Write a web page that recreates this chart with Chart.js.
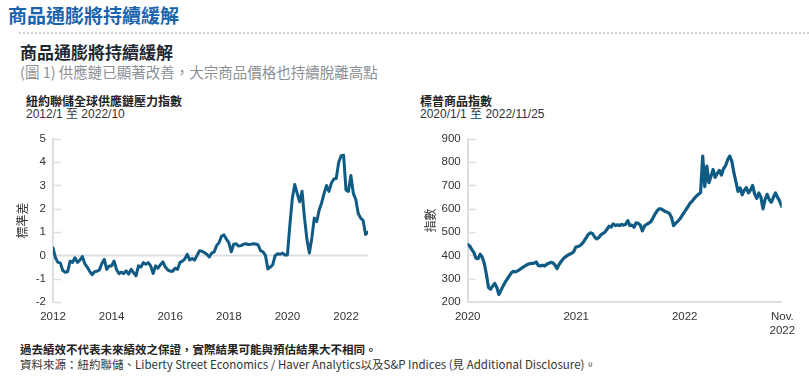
<!DOCTYPE html>
<html><head><meta charset="utf-8">
<script src="https://cdn.jsdelivr.net/npm/chart.js@4"></script>
<style>
html,body{margin:0;padding:0;background:#fff;width:809px;height:380px;overflow:hidden;}
body{position:relative;font-family:"Noto Sans CJK TC","Noto Sans",sans-serif;}
.t{position:absolute;white-space:nowrap;line-height:1;}
#h1{left:8px;top:5px;font-size:19px;font-weight:700;color:#1a64ad;}
#rule{position:absolute;left:19px;right:0;top:32px;border-top:2px dotted #cfcfcf;}
#h2{left:20px;top:43px;font-size:17px;font-weight:700;color:#1c2733;}
#sub{left:20px;top:65px;font-size:14.5px;color:#8a9096;}
.ct{font-size:12px;font-weight:700;color:#222;}
.cs{font-size:12px;color:#333;font-family:"Liberation Sans","Noto Sans CJK TC",sans-serif;}
#f1{left:20px;top:344px;font-size:11.5px;font-weight:700;color:#222;}
#f2{left:20px;top:359px;font-size:11.5px;color:#333;}
canvas{position:absolute;}
</style></head>
<body>
<div class="t" id="h1">商品通膨將持續緩解</div>
<div id="rule"></div>
<div class="t" id="h2">商品通膨將持續緩解</div>
<div class="t" id="sub">(圖 1) 供應鏈已顯著改善，大宗商品價格也持續脫離高點</div>
<div class="t ct" style="left:26px;top:95px;">紐約聯儲全球供應鏈壓力指數</div>
<div class="t cs" style="left:26px;top:108px;">2012/1 至 2022/10</div>
<div class="t ct" style="left:420px;top:95px;">標普商品指數</div>
<div class="t cs" style="left:420px;top:108px;">2020/1/1 至 2022/11/25</div>
<canvas id="c1" width="400" height="210" style="left:0;top:125px;"></canvas>
<canvas id="c2" width="409" height="215" style="left:400px;top:125px;"></canvas>
<div class="t" id="f1">過去績效不代表未來績效之保證，實際結果可能與預估結果大不相同。</div>
<div class="t" id="f2">資料來源：紐約聯儲、Liberty Street Economics / Haver Analytics以及S&amp;P Indices (見 Additional Disclosure)。</div>
<script>
// ---- Data ----
// NY Fed Global Supply Chain Pressure Index, monthly from 2012/1 to 2022/10
const gscpiStartYear = 2012;
const gscpiValues = [
 0.32,-0.1,-0.3,-0.32,-0.65,-0.72,-0.7,-0.25,-0.3,-0.1,-0.3,-0.2,
 -0.05,-0.35,-0.5,-0.68,-0.83,-0.7,-0.68,-0.62,-0.35,-0.17,-0.6,-0.45,
 -0.45,-0.24,-0.6,-0.78,-0.72,-0.78,-0.66,-0.8,-0.6,-0.74,-0.88,-0.45,
 -0.5,-0.31,-0.38,-0.31,-0.45,-0.78,-0.45,-0.55,-0.4,-0.28,-0.5,-0.62,
 -0.68,-0.68,-0.55,-0.6,-0.3,-0.25,-0.15,0.05,-0.2,-0.13,-0.2,0.0,
 0.2,0.18,0.12,0.05,-0.07,0.1,0.15,0.42,0.55,0.82,0.88,0.7,
 0.55,0.15,0.48,0.5,0.4,0.42,0.48,0.5,0.47,0.48,0.5,0.49,
 0.45,0.2,0.15,0.0,-0.58,-0.5,-0.4,0.0,0.07,0.05,0.1,0.02,
 0.02,1.3,2.44,3.04,2.66,2.3,2.75,1.6,0.68,0.1,0.75,1.6,
 1.45,1.95,2.25,2.65,3.0,2.75,3.1,3.28,3.3,4.0,4.28,4.3,
 2.8,2.75,3.43,2.66,2.4,1.8,1.6,1.5,0.9,1.0
];
const gscpiXTicks = [2012, 2014, 2016, 2018, 2020, 2022];
const gscpiYTicks = [-2, -1, 0, 1, 2, 3, 4, 5];
const gscpiYTitle = '標準差';

// S&P GSCI, weekly readings from 2020/1/1 to 2022/11/25
const spgsciStartYear = 2020;
const spgsciValues = [
 447,440,425,412,388,386,405,392,365,318,262,255,268,280,262,232,250,268,285,298,
 312,325,332,329,334,339,346,352,357,362,365,366,367,372,356,355,358,354,362,366,
 370,368,358,343,362,375,386,394,400,405,409,416,436,438,442,450,462,476,490,497,
 494,480,471,476,488,494,500,512,526,521,535,528,531,528,533,530,534,549,528,530,
 521,540,538,530,505,526,533,538,544,559,576,590,600,600,594,588,585,580,563,528,
 538,546,556,570,583,597,610,625,633,645,655,662,670,826,695,783,712,740,769,735,
 752,765,745,772,785,810,826,805,755,715,675,690,660,680,691,668,680,700,663,645,
 668,650,600,640,662,640,628,649,668,649,634,610
];
const spgsciXTicks = [2020, 2021, 2022, 2022.9];
const spgsciXTickLabels = ['2020', '2021', '2022', ['Nov.', '2022']];
const spgsciYTicks = [200, 300, 400, 500, 600, 700, 800, 900];
const spgsciYTitle = '指數';

// ---- Rendering ----
const LINE = '#0f5b83';
const AXIS = '#dcdfe2';
const tickFont = {family: '"Liberation Sans", Arial, sans-serif', size: 11.5};

const marks = {
  id: 'marks',
  beforeDatasetsDraw(chart, args, opts) {
    const {ctx, chartArea: a, scales: {y}} = chart;
    ctx.save();
    ctx.strokeStyle = AXIS;
    ctx.lineWidth = 1.5;
    y.ticks.forEach(t => {
      const py = Math.round(y.getPixelForValue(t.value)) + 0.5;
      ctx.beginPath(); ctx.moveTo(a.left, py); ctx.lineTo(a.left + 8, py); ctx.stroke();
    });
    if (opts.zero) {
      const py = y.getPixelForValue(0);
      ctx.lineWidth = 2;
      ctx.beginPath(); ctx.moveTo(a.left, py); ctx.lineTo(a.right, py); ctx.stroke();
    }
    ctx.restore();
  }
};

function makeChart(id, cw, ch, area, cfg) {
  return new Chart(document.getElementById(id), {
    type: 'line',
    data: {datasets: [{data: cfg.points, borderColor: LINE, borderWidth: cfg.lw,
      pointRadius: 0, tension: 0, fill: false, borderJoinStyle: 'round', borderCapStyle: 'round'}]},
    options: {
      responsive: false, animation: false, devicePixelRatio: 1,
      layout: {padding: {left: 0, top: area.top, right: cw - area.right, bottom: 0}},
      plugins: {legend: {display: false}, tooltip: {enabled: false}, marks: {zero: cfg.zero}},
      scales: {
        x: {
          type: 'linear', min: cfg.xMin, max: cfg.xMax,
          grid: {display: false, drawTicks: false},
          border: {display: cfg.xBorder, color: AXIS, width: 2},
          ticks: {font: tickFont, color: '#333', padding: 8, maxRotation: 0, autoSkip: false,
            callback: (v) => cfg.xLabel(v)},
          afterBuildTicks: s => { s.ticks = cfg.xTicks.map(v => ({value: v})); },
          afterFit: s => { s.height = ch - area.bottom; }
        },
        y: {
          min: cfg.yTicks[0], max: cfg.yTicks[cfg.yTicks.length - 1],
          grid: {display: false, drawTicks: false},
          border: {display: true, color: AXIS, width: 2},
          ticks: {font: tickFont, color: '#333', padding: 7},
          afterBuildTicks: s => { s.ticks = cfg.yTicks.map(v => ({value: v})); },
          title: {display: true, text: cfg.yTitle, color: '#333',
            font: {family: '"Noto Sans CJK TC", sans-serif', size: 12},
            padding: {top: cfg.titlePad, bottom: 0}},
          afterFit: s => { s.width = area.left; }
        }
      }
    },
    plugins: [marks]
  });
}

const leftPoints = gscpiValues.map((v, i) => ({x: gscpiStartYear + i / 12, y: v}));
makeChart('c1', 400, 210, {left: 53, top: 12.7, right: 368, bottom: 177}, {
  points: leftPoints, lw: 3, zero: true, xBorder: false,
  xMin: gscpiStartYear, xMax: gscpiStartYear + (gscpiValues.length - 1) / 12,
  xTicks: gscpiXTicks, xLabel: v => String(v),
  yTicks: gscpiYTicks, yTitle: gscpiYTitle, titlePad: 14.8
});

const rightPoints = spgsciValues.map((v, i) => ({x: spgsciStartYear + i * 7 / 365.25, y: v}));
makeChart('c2', 409, 215, {left: 67.7, top: 12.7, right: 381.7, bottom: 177}, {
  points: rightPoints, lw: 3.2, zero: false, xBorder: true,
  xMin: spgsciStartYear, xMax: spgsciStartYear + (spgsciValues.length - 1) * 7 / 365.25,
  xTicks: spgsciXTicks, xLabel: v => spgsciXTickLabels[spgsciXTicks.indexOf(v)],
  yTicks: spgsciYTicks, yTitle: spgsciYTitle, titlePad: 22.8
});
</script>
</body></html>
